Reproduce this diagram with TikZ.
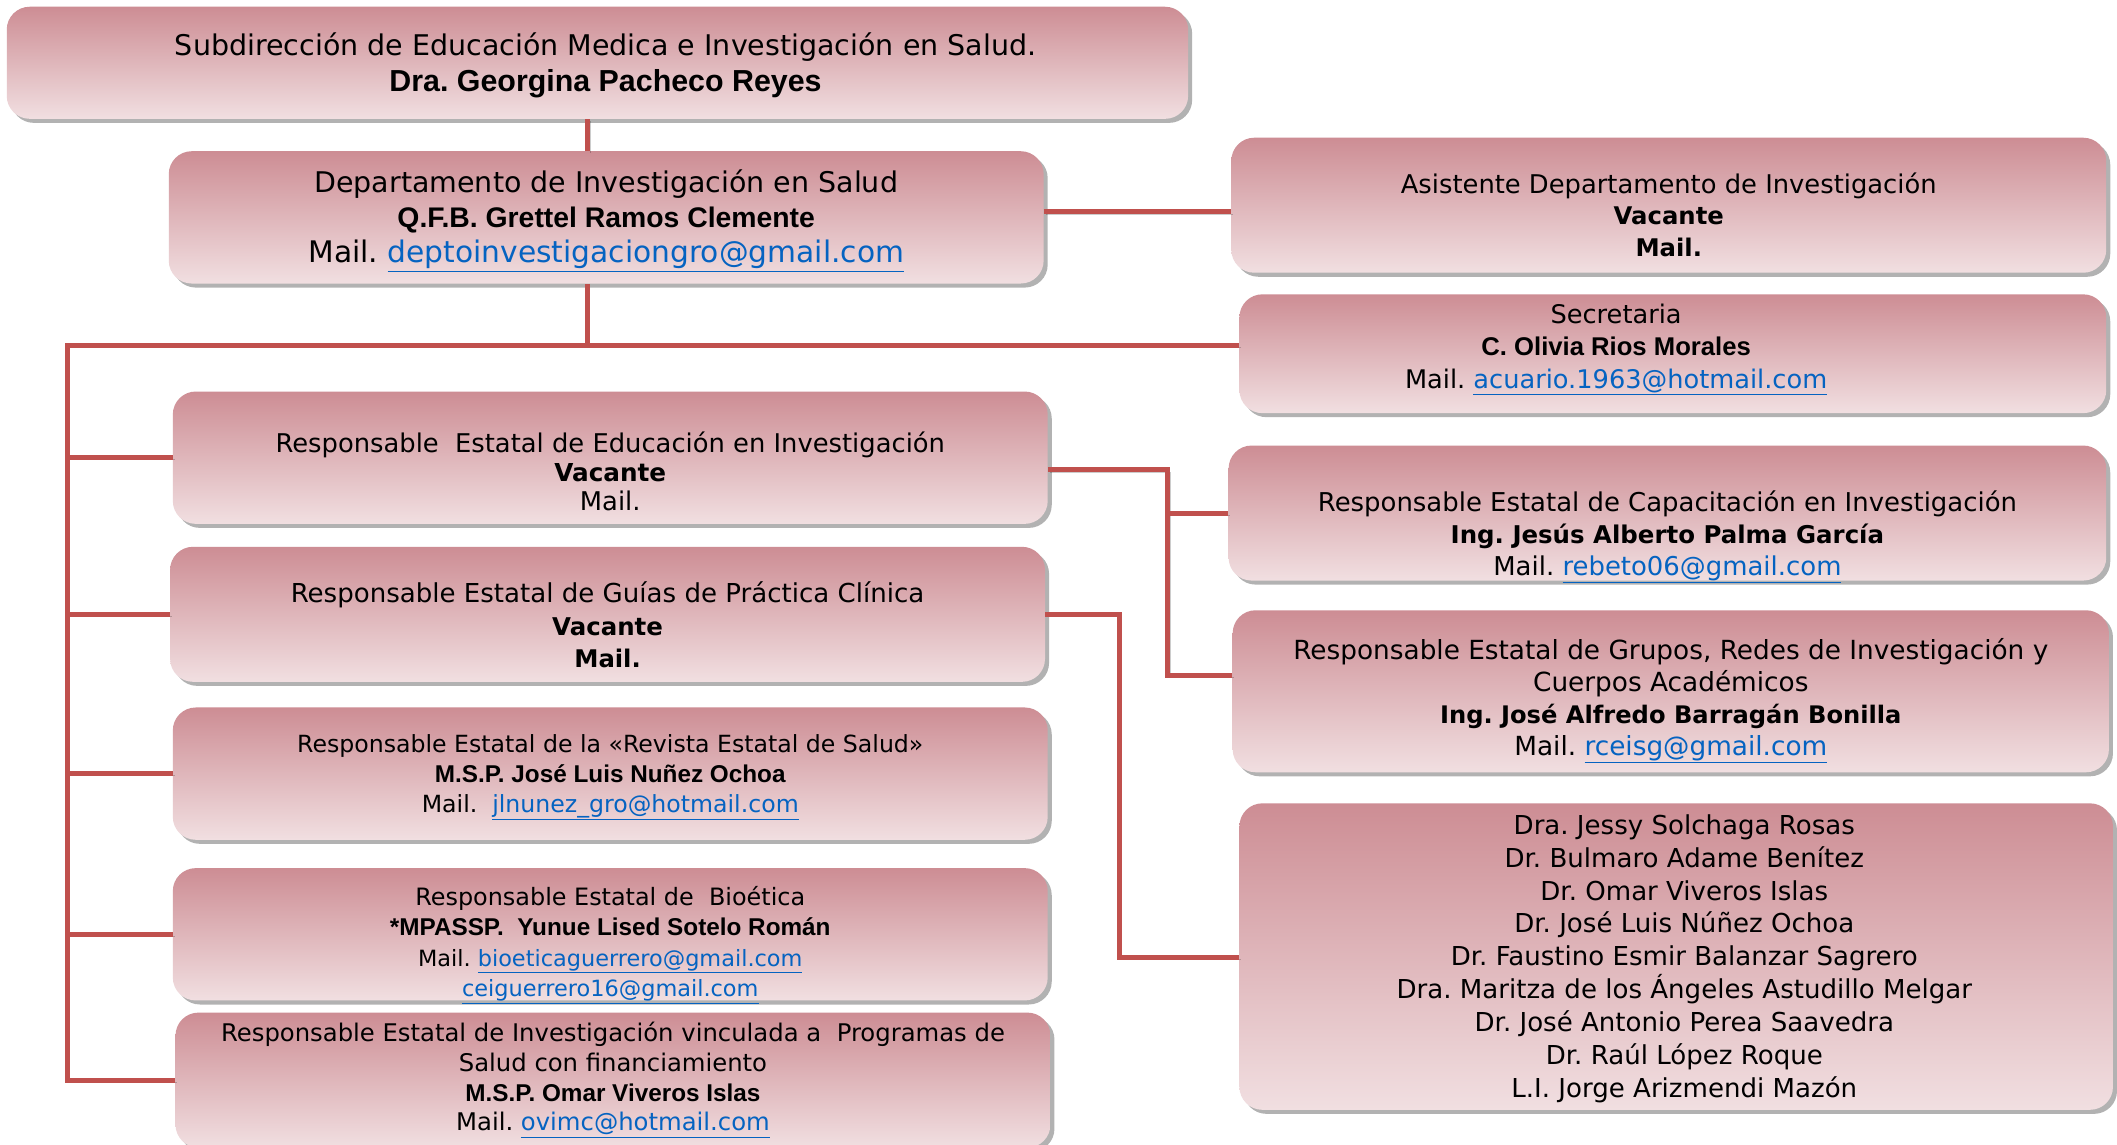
\documentclass[tikz,border=0pt]{standalone}
\usepackage{fontspec}
\setmainfont{DejaVu Sans}
\newfontfamily\estrecha{Liberation Sans}
\usepackage{tikz}
\usetikzlibrary{positioning,shadows,calc}
\definecolor{rosaArriba}{RGB}{205,141,148}
\definecolor{rosaAbajo}{RGB}{241,223,225}
\definecolor{rojoLinea}{RGB}{192,80,77}
\definecolor{enlace}{RGB}{5,99,193}
\newcommand{\nombre}[2][18]{{\fontsize{#1}{#1}\selectfont\estrecha\bfseries #2}}
\newcommand{\fuerte}[2][18]{{\fontsize{#1}{#1}\selectfont\bfseries #2}}
\newcommand{\tamano}[2]{{\fontsize{#1}{#1}\selectfont #2}}
\newcommand{\correo}[1]{\textcolor{enlace}{\underline{#1}}}
\frenchspacing

\begin{document}
\begin{tikzpicture}[x=1pt,y=-1pt,
   caja/.style={rounded corners=17pt, top color=rosaArriba, bottom color=rosaAbajo,
     draw=none, inner sep=0pt,
     drop shadow={shadow xshift=3pt,shadow yshift=-3pt,opacity=.3,fill=black}},
   texto/.style={align=center, inner sep=0pt},
   linea/.style={draw=rojoLinea, line width=3.7pt,
     preaction={draw=black, opacity=.2, transform canvas={xshift=1.5pt,yshift=-1.5pt}}}]
  \path[use as bounding box, fill=white] (0,0) rectangle (1568,848);
  % cajas
  \node[caja, minimum width=875pt, minimum height=83pt] (sub) at (442.5,46.5) {};
  \node[caja, minimum width=648pt, minimum height=98pt] (depto) at (449,161) {};
  \node[caja, minimum width=648pt, minimum height=100pt] (asist) at (1236,152) {};
  \node[caja, minimum width=642pt, minimum height=88pt] (secre) at (1239,262) {};
  \node[caja, minimum width=648pt, minimum height=98pt] (edu) at (452,339) {};
  \node[caja, minimum width=648pt, minimum height=100pt] (guias) at (450,455) {};
  \node[caja, minimum width=648pt, minimum height=98pt] (revista) at (452,573) {};
  \node[caja, minimum width=648pt, minimum height=98pt] (bioetica) at (452,692) {};
  \node[caja, minimum width=648pt, minimum height=100pt] (prog) at (454,800) {};
  \node[caja, minimum width=650pt, minimum height=100pt] (capac) at (1235,380) {};
  \node[caja, minimum width=649pt, minimum height=120pt] (grupos) at (1237.5,512) {};
  \node[caja, minimum width=647pt, minimum height=227pt] (docs) at (1241.5,708.5) {};
  % textos
  \node[texto, font=\fontsize{21.1}{27}\selectfont] (subT) at ($(sub)+(6,2)$) {Subdirección de Educación Medica e Investigación en Salud.\\ \nombre[22.5]{Dra. Georgina Pacheco Reyes}};
  \node[texto, font=\fontsize{21.1}{26}\selectfont] (deptoT) at ($(depto)+(0,2.5)$) {Departamento de Investigación en Salud\\ \nombre[21]{Q.F.B. Grettel Ramos Clemente}\\ \tamano{22}{Mail. \correo{deptoinvestigaciongro@gmail.com}}};
  \node[texto, font=\fontsize{19.1}{23.5}\selectfont] (asistT) at ($(asist)+(0,7)$) {Asistente Departamento de Investigación\\ \fuerte[18]{Vacante}\\ \fuerte[18]{Mail.}};
  \node[texto, font=\fontsize{19}{24}\selectfont] (secreT) at ($(secre)+(-42,-3)$) {Secretaria\\ \nombre[19]{C. Olivia Rios Morales}\\ Mail. \correo{acuario.1963@hotmail.com}};
  \node[texto, font=\fontsize{19.1}{21.5}\selectfont] (eduT) at ($(edu)+(0,10)$) {Responsable\ \ Estatal de Educación en Investigación\\ \fuerte[18.3]{Vacante}\\ Mail.};
  \node[texto, font=\fontsize{19.3}{24}\selectfont] (guiasT) at ($(guias)+(0,8)$) {Responsable Estatal de Guías de Práctica Clínica\\ \fuerte[18.1]{Vacante}\\ \fuerte[18]{Mail.}};
  \node[texto, font=\fontsize{17.5}{22}\selectfont] (revistaT) at ($(revista)+(0,3)$) {Responsable Estatal de la «Revista Estatal de Salud»\\ \nombre[18]{M.S.P. José Luis Nuñez Ochoa}\\ Mail.\ \ \correo{jlnunez\_gro@hotmail.com}};
  \node[texto, font=\fontsize{17.7}{22.5}\selectfont] (bioeticaT) at ($(bioetica)+(0,8)$) {Responsable Estatal de\ \ Bioética\\ \nombre[18]{*MPASSP.\ \ Yunue Lised Sotelo Román}\\ \tamano{16.6}{Mail. \correo{bioeticaguerrero@gmail.com}}\\ \tamano{16.6}{\correo{ceiguerrero16@gmail.com}}};
  \node[texto, font=\fontsize{18}{22}\selectfont] (progT) at ($(prog)+(0,0)$) {Responsable Estatal de Investigación vinculada a\ \ Programas de\\ Salud con financiamiento\\ \nombre[18]{M.S.P. Omar Viveros Islas}\\ Mail. \correo{ovimc@hotmail.com}};
  \node[texto, font=\fontsize{19.2}{23.5}\selectfont] (capacT) at ($(capac)+(0,18)$) {Responsable Estatal de Capacitación en Investigación\\ \fuerte[18.1]{Ing. Jesús Alberto Palma García}\\ Mail. \correo{rebeto06@gmail.com}};
  \node[texto, font=\fontsize{19.5}{23.7}\selectfont] (gruposT) at ($(grupos)+(0,7)$) {Responsable Estatal de Grupos, Redes de Investigación y\\ Cuerpos Académicos\\ \fuerte[17.9]{Ing. José Alfredo Barragán Bonilla}\\ Mail. \correo{rceisg@gmail.com}};
  \node[texto, font=\fontsize{19.3}{24.3}\selectfont] (docsT) at ($(docs)+(6,1.5)$) {Dra. Jessy Solchaga Rosas\\ Dr. Bulmaro Adame Benítez\\ Dr. Omar Viveros Islas\\ Dr. José Luis Núñez Ochoa\\ Dr. Faustino Esmir Balanzar Sagrero\\ Dra. Maritza de los Ángeles Astudillo Melgar\\ Dr. José Antonio Perea Saavedra\\ Dr. Raúl López Roque\\ L.I. Jorge Arizmendi Mazón};
  % conectores
  \coordinate (busTop) at (50,256);
  \coordinate (busBot) at (50,800);
  \coordinate (rama1) at (865,500);
  \coordinate (rama2) at (829,709);
  \draw[linea] ([xshift=-7pt]sub.south) -- ([xshift=-7pt]sub.south |- depto.north);
  \draw[linea] ([yshift=4pt]depto.east) -- ([yshift=4pt]depto.east -| asist.west);
  \draw[linea] ([xshift=-14pt]depto.south) -- ([xshift=-14pt]depto.south |- busTop);
  \draw[linea] (busTop -| secre.west) -- (busTop) -- (busBot) -- (busBot -| prog.west);
  \foreach \c in {edu,guias,revista,bioetica}
    \draw[linea] (\c.west -| busTop) -- (\c.west);
  \draw[linea] ([yshift=-9pt]edu.east) -| (rama1) -- (rama1 -| grupos.west);
  \draw[linea] (rama1 |- capac.west) -- (capac.west);
  \draw[linea] (guias.east) -| (rama2) -- (rama2 -| docs.west);
\end{tikzpicture}
\end{document}
